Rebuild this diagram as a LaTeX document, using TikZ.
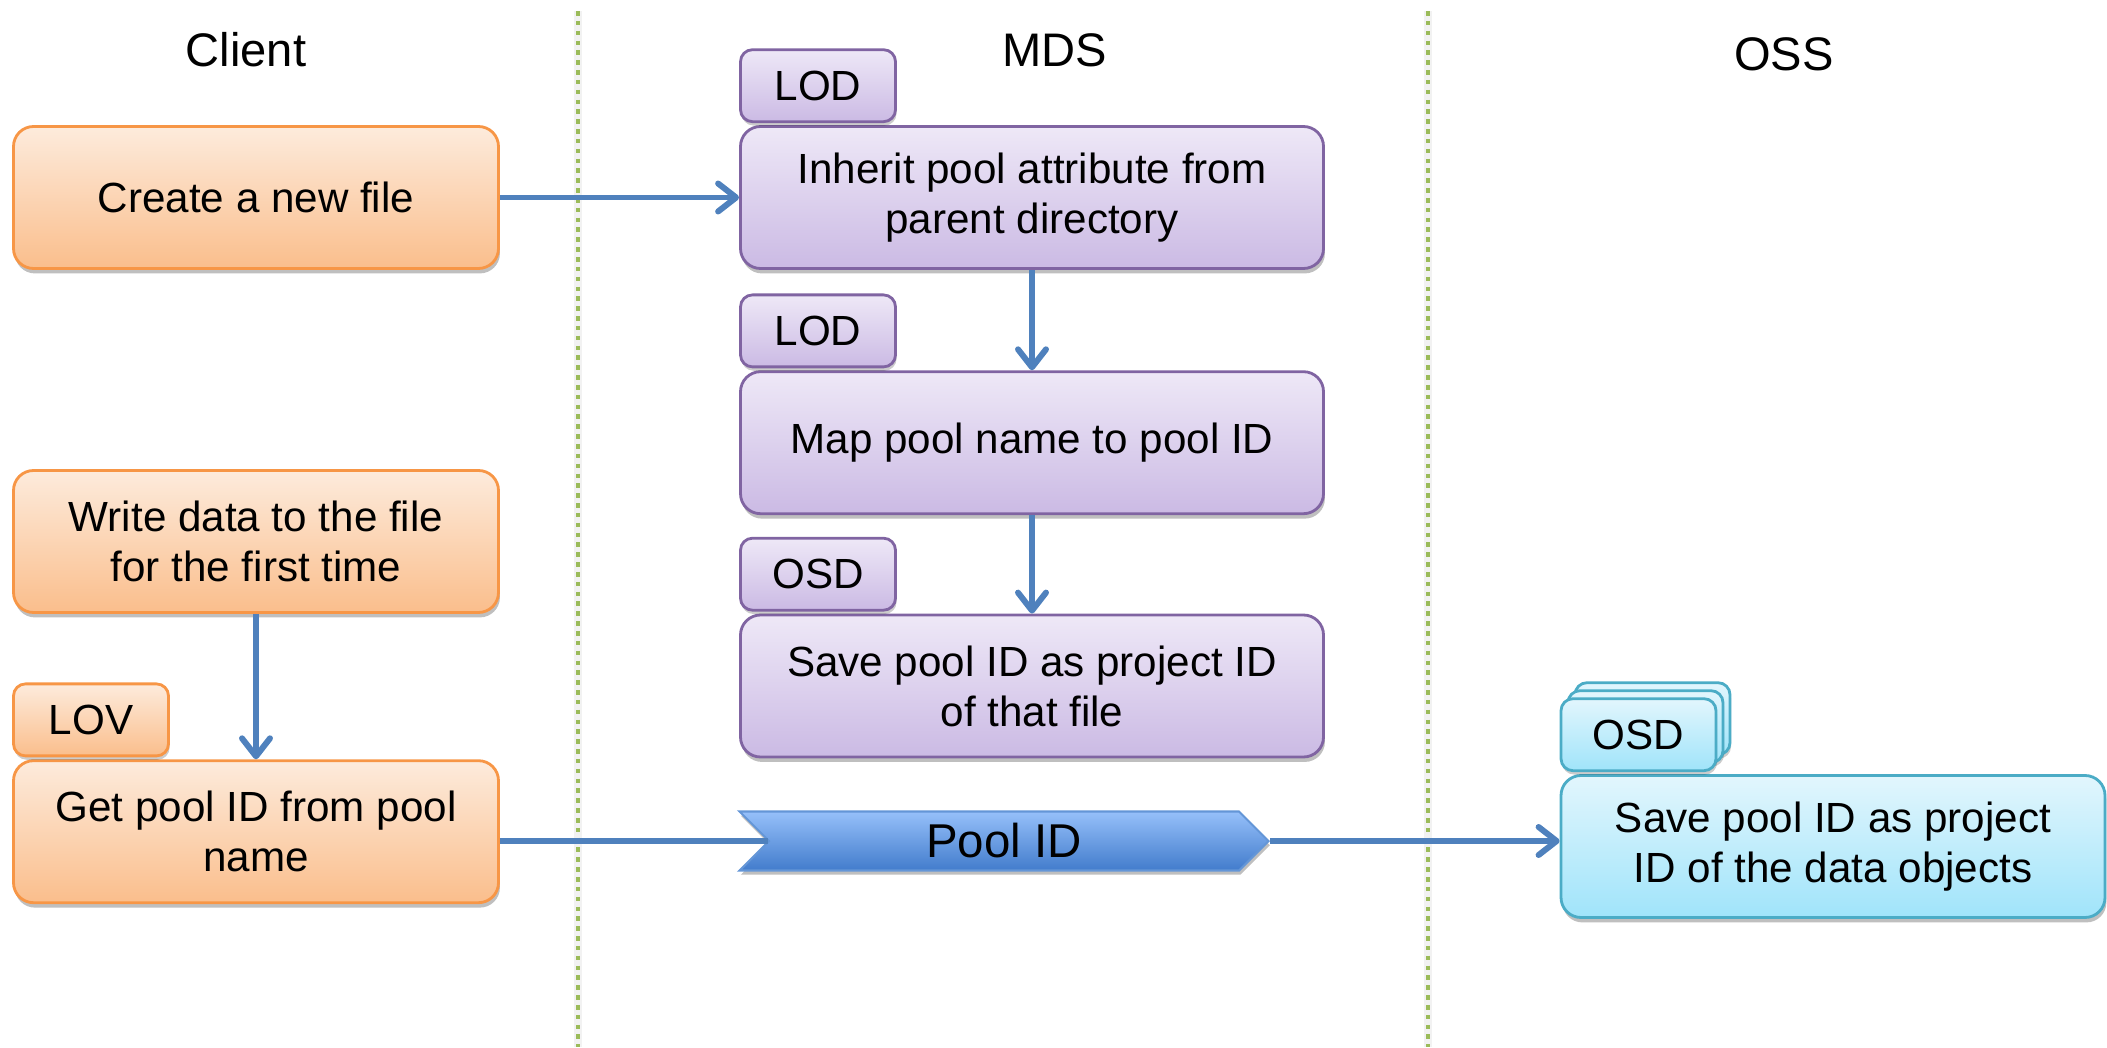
\documentclass[tikz,border=0pt]{standalone}
\usepackage{fontspec}
\setmainfont{Liberation Sans}
\usetikzlibrary{arrows.meta,positioning,shapes.symbols,shadows}
\newcommand{\BOXW}{4.85}
\newcommand{\BOXH}{1.42}
\newcommand{\MDSW}{5.83}
\newcommand{\TAGW}{1.55}
\newcommand{\TAGH}{0.72}
\definecolor{cltop}{RGB}{253,235,220}
\definecolor{clbot}{RGB}{250,190,140}
\definecolor{cledge}{RGB}{247,150,70}
\definecolor{mdtop}{RGB}{238,232,247}
\definecolor{mdbot}{RGB}{203,186,228}
\definecolor{mdedge}{RGB}{128,100,162}
\definecolor{ostop}{RGB}{226,246,253}
\definecolor{osbot}{RGB}{160,228,250}
\definecolor{osedge}{RGB}{75,172,198}
\definecolor{idtop}{RGB}{150,192,250}
\definecolor{idbot}{RGB}{66,124,204}
\definecolor{idedge}{RGB}{100,150,215}
\definecolor{flowblue}{RGB}{79,129,189}
\definecolor{lanegreen}{RGB}{155,187,89}

\begin{document}
\begin{tikzpicture}[
    box/.style={rectangle, rounded corners=0.2cm, line width=0.8pt, minimum height=\BOXH cm,
      align=center, inner sep=2pt, font=\fontsize{12}{14.2}\selectfont,
      drop shadow={shadow xshift=0.4pt, shadow yshift=-1.4pt, opacity=0.25, fill=black}},
    CL/.style={box, draw=cledge, top color=cltop, bottom color=clbot, minimum width=\BOXW cm},
    MD/.style={box, draw=mdedge, top color=mdtop, bottom color=mdbot, minimum width=\MDSW cm},
    OS/.style={box, draw=osedge, top color=ostop, bottom color=osbot, minimum width=5.44cm},
    badge/.style={rectangle, rounded corners=0.12cm, line width=0.8pt, inner sep=0pt,
      minimum width=\TAGW cm, minimum height=\TAGH cm, font=\fontsize{12}{14.2}\selectfont,
      drop shadow={shadow xshift=0.3pt, shadow yshift=-1.1pt, opacity=0.2, fill=black}},
    CLtag/.style={badge, draw=cledge, top color=cltop, bottom color=clbot},
    MDtag/.style={badge, draw=mdedge, top color=mdtop, bottom color=mdbot},
    OStag/.style={badge, draw=osedge, top color=ostop, bottom color=osbot},
    chev/.style={signal, signal to=east, signal from=west, signal pointer angle=90,
      draw=idedge, line width=0.6pt, top color=idtop, bottom color=idbot,
      minimum width=5.29cm, minimum height=0.59cm, inner sep=0pt,
      font=\fontsize{13.5}{16}\selectfont,
      drop shadow={shadow xshift=0.4pt, shadow yshift=-1.2pt, opacity=0.25, fill=black}},
    head/.style={font=\fontsize{13.4}{16}\selectfont},
    lane/.style={draw=lanegreen, line width=1.3pt, dash pattern=on 1.3pt off 1.5pt,
      preaction={draw=black, opacity=0.05, line width=2.2pt, solid}},
    link/.style={draw=flowblue, line width=1.7pt},
    flow/.style={link, -{Straight Barb[length=1.8mm, width=2.8mm, round]}},
  ]
  \useasboundingbox (0,0) rectangle (21.07,10.47);

  %% ================= lanes =================
  \draw[lane] (5.78,10.36) -- (5.78,0);
  \draw[lane] (14.28,10.36) -- (14.28,0);

  \node[head] (client) at (2.46,9.97)  {Client};
  \node[head] (mds)    at (10.55,9.97) {MDS};
  \node[head] (oss)    at (17.84,9.93) {OSS};

  %% ================= client =================
  \node[CL] (create) at (2.56,8.495) {Create a new file};
  \node[CL] (write)  at (2.56,5.055) {Write data to the file\\for the first time};
  \node[CL] (get)    at (2.56,2.153) {Get pool ID from pool\\name};
  \node[CLtag, anchor=south west] (lov) at ([yshift=0.02cm]get.north west) {LOV};

  %% ================= MDS =================
  \node[MD] (inherit) at (10.32,8.495) {Inherit pool attribute from\\parent directory};
  \node[MD] (map)     at (10.32,6.043) {Map pool name to pool ID};
  \node[MD] (save)    at (10.32,3.61)  {Save pool ID as project ID\\of that file};
  \node[MDtag, anchor=south west] (lod1) at ([yshift=0.02cm]inherit.north west) {LOD};
  \node[MDtag, anchor=south west] (lod2) at ([yshift=0.02cm]map.north west)     {LOD};
  \node[MDtag, anchor=south west] (osd1) at ([yshift=0.02cm]save.north west)    {OSD};

  \node[chev] (pool) at (10.04,2.06) {Pool ID};

  %% ================= OSS =================
  \node[OS] (obj) at (18.33,2.005) {Save pool ID as project\\ID of the data objects};
  % three stacked OSD badges, front one carries the text
  \node[OStag, anchor=south west] (osd3) at ([xshift=0.14cm, yshift=0.18cm]obj.north west) {};
  \node[OStag, anchor=south west] (osd2) at ([xshift=0.07cm, yshift=0.10cm]obj.north west) {};
  \node[OStag, anchor=south west] (osd)  at ([yshift=0.02cm]obj.north west) {OSD};

  %% ================= flows =================
  \draw[flow] (create) -- (inherit);
  \draw[flow] (inherit) -- (map);
  \draw[flow] (map) -- (save);
  \draw[flow] (write) -- (get);
  \draw[link] (get.east |- pool.west) -- (pool.west);
  \draw[flow] (pool.east) -- (pool.east -| obj.west);

\end{tikzpicture}
\end{document}
